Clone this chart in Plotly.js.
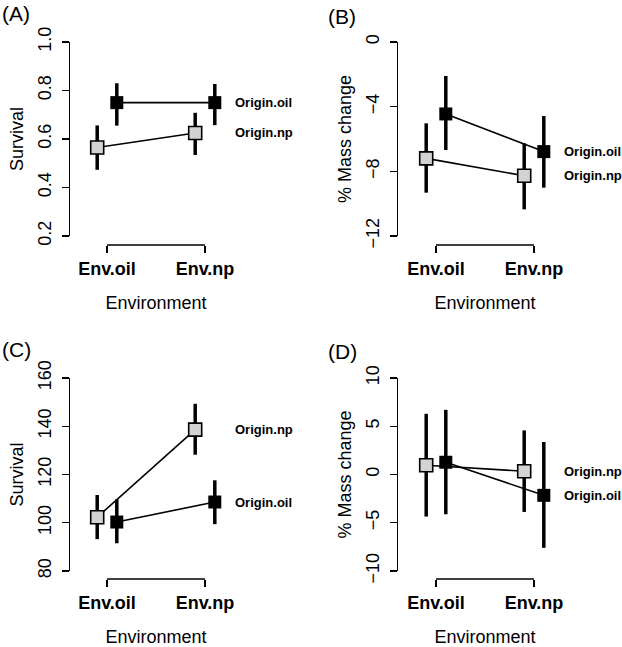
<!DOCTYPE html>
<html>
<head>
<meta charset="utf-8">
<script src="https://cdn.plot.ly/plotly-3.0.1.min.js"></script>
<style>
  html, body { margin: 0; padding: 0; background: #fff; }
  #chart { width: 622px; height: 647px; }
</style>
</head>
<body>
<div id="chart"></div>
<script>
// categories and series labels
var envLabels = ['Env.oil', 'Env.np'];
var panelTags = ['(A)', '(B)', '(C)', '(D)'];
var yTitles = ['Survival', '% Mass change', 'Survival', '% Mass change'];

// y tick values per panel
var ticksA = [0.2, 0.4, 0.6, 0.8, 1.0];
var ticksB = [-12, -8, -4, 0];
var ticksC = [80, 100, 120, 140, 160];
var ticksD = [-10, -5, 0, 5, 10];

// (A) survival
var npMeanA = [0.565, 0.625];
var npLoA = [0.473, 0.534];
var npHiA = [0.656, 0.708];
var oilMeanA = [0.75, 0.75];
var oilLoA = [0.655, 0.657];
var oilHiA = [0.83, 0.827];

// (B) % mass change
var npMeanB = [-7.2, -8.27];
var npLoB = [-9.32, -10.35];
var npHiB = [-5.03, -6.27];
var oilMeanB = [-4.45, -6.78];
var oilLoB = [-6.68, -9.01];
var oilHiB = [-2.1, -4.58];

// (C) survival
var npMeanC = [102.3, 138.6];
var npLoC = [93.2, 128.2];
var npHiC = [111.5, 149.3];
var oilMeanC = [100.3, 108.6];
var oilLoC = [91.5, 99.4];
var oilHiC = [109.7, 117.6];

// (D) % mass change
var npMeanD = [0.96, 0.34];
var npLoD = [-4.36, -3.88];
var npHiD = [6.29, 4.57];
var oilMeanD = [1.27, -2.16];
var oilLoD = [-4.12, -7.6];
var oilHiD = [6.7, 3.37];

var W = 622, H = 647;
var FONT = 'Liberation Sans, Arial, Helvetica, sans-serif';

function px(x) { return x / W; }
function py(y) { return 1 - y / H; }

// pixel geometry of each panel
var panels = [
  { axisX: 69,  yTop: 42,  yBot: 236, bracketY: 245, cat1: 107, cat2: 205, tagX: 0,   tagY: 14,
    ticks: ticksA, fmt: '.1f', np: [npMeanA, npLoA, npHiA], oil: [oilMeanA, oilLoA, oilHiA] },
  { axisX: 397, yTop: 42,  yBot: 236, bracketY: 245, cat1: 436, cat2: 534, tagX: 326, tagY: 16,
    ticks: ticksB, fmt: 'd', np: [npMeanB, npLoB, npHiB], oil: [oilMeanB, oilLoB, oilHiB] },
  { axisX: 69,  yTop: 378, yBot: 571, bracketY: 579, cat1: 107, cat2: 205, tagX: 0,   tagY: 349,
    ticks: ticksC, fmt: 'd', np: [npMeanC, npLoC, npHiC], oil: [oilMeanC, oilLoC, oilHiC] },
  { axisX: 397, yTop: 378, yBot: 571, bracketY: 579, cat1: 436, cat2: 534, tagX: 326, tagY: 351,
    ticks: ticksD, fmt: 'd', np: [npMeanD, npLoD, npHiD], oil: [oilMeanD, oilLoD, oilHiD] }
];

var dodge = 0.1;
var traces = [];
var shapes = [];
var annotations = [];
var layout = {
  width: W, height: H,
  margin: { l: 0, r: 0, t: 0, b: 0 },
  paper_bgcolor: '#fff', plot_bgcolor: 'rgba(0,0,0,0)',
  showlegend: false,
  font: { family: FONT, color: '#000', size: 18 }
};

function errBar(stats) {
  return {
    type: 'data', symmetric: false,
    array: stats[2].map((h, i) => h - stats[0][i]),
    arrayminus: stats[1].map((l, i) => stats[0][i] - l),
    width: 0, thickness: 3.5, color: '#000'
  };
}

panels.forEach(function(p, k) {
  var n = k + 1;
  var xa = 'x' + (n === 1 ? '' : n), ya = 'y' + (n === 1 ? '' : n);
  var unit = p.cat2 - p.cat1;
  var right = 2 * ((p.cat1 + p.cat2) / 2) - p.axisX;

  traces.push({
    x: [1 - dodge, 2 - dodge], y: p.np[0], xaxis: xa, yaxis: ya,
    type: 'scatter', mode: 'lines+markers', cliponaxis: false,
    line: { color: '#000', width: 1.6 },
    marker: { symbol: 'square', size: 13, color: '#d3d3d3', line: { color: '#000', width: 1.6 } },
    error_y: errBar(p.np)
  });
  traces.push({
    x: [1 + dodge, 2 + dodge], y: p.oil[0], xaxis: xa, yaxis: ya,
    type: 'scatter', mode: 'lines+markers', cliponaxis: false,
    line: { color: '#000', width: 1.6 },
    marker: { symbol: 'square', size: 13, color: '#000' },
    error_y: errBar(p.oil)
  });

  layout['xaxis' + (n === 1 ? '' : n)] = {
    domain: [px(p.axisX), px(right)],
    range: [1 - (p.cat1 - p.axisX) / unit, 2 + (right - p.cat2) / unit],
    anchor: 'free', position: py(p.bracketY),
    showline: false, showgrid: false, zeroline: false,
    ticks: 'outside', ticklen: 7, tickwidth: 1.3, tickcolor: '#000',
    tickvals: [1, 2], ticktext: envLabels,
    tickfont: { size: 18, weight: 'bold', family: FONT },
    title: { text: 'Environment', font: { size: 18, family: FONT } },
    fixedrange: true
  };
  layout['yaxis' + (n === 1 ? '' : n)] = {
    domain: [py(p.yBot), py(p.yTop)],
    range: [p.ticks[0], p.ticks[p.ticks.length - 1]],
    anchor: 'free', position: px(p.axisX),
    showline: true, linewidth: 1.3, linecolor: '#000',
    showgrid: false, zeroline: false,
    ticks: 'outside', ticklen: 7, tickwidth: 1.3, tickcolor: '#000',
    tickvals: p.ticks, tickformat: p.fmt, tickangle: -90, ticklabelstandoff: 4,
    tickfont: { size: 18, family: FONT },
    title: { text: yTitles[k], font: { size: 18, family: FONT } },
    fixedrange: true
  };

  // bracket-style x axis line between the two categories
  shapes.push({
    type: 'line', xref: xa, yref: 'paper',
    x0: 1, x1: 2, y0: py(p.bracketY), y1: py(p.bracketY),
    line: { color: '#000', width: 1.3 }
  });

  // series labels at the right end of each line
  annotations.push({
    xref: xa, yref: ya, x: 2.29, y: p.oil[0][1], xanchor: 'left', yanchor: 'middle',
    text: 'Origin.oil', showarrow: false, font: { size: 13, weight: 'bold', family: FONT }
  });
  annotations.push({
    xref: xa, yref: ya, x: 2.29, y: p.np[0][1], xanchor: 'left', yanchor: 'middle',
    text: 'Origin.np', showarrow: false, font: { size: 13, weight: 'bold', family: FONT }
  });

  annotations.push({
    xref: 'paper', yref: 'paper', x: px(p.tagX), y: py(p.tagY),
    xanchor: 'left', yanchor: 'middle', text: panelTags[k], showarrow: false,
    font: { size: 21, family: FONT }
  });
});

layout.shapes = shapes;
layout.annotations = annotations;

Plotly.newPlot('chart', traces, layout, { staticPlot: true, displayModeBar: false });
</script>
</body>
</html>
